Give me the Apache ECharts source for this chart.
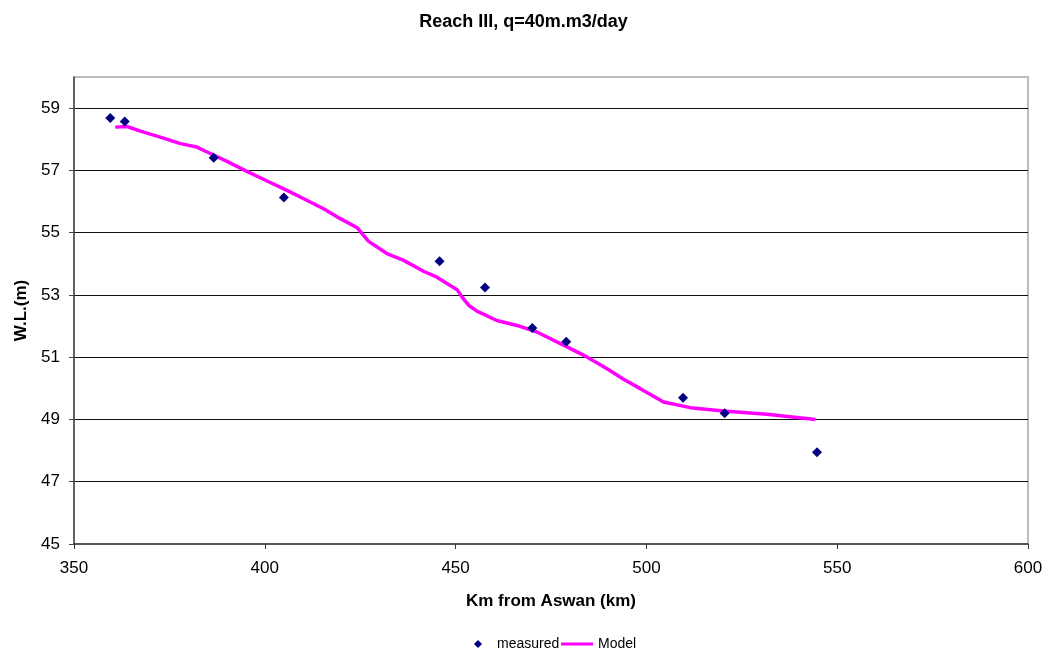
<!DOCTYPE html>
<html>
<head>
<meta charset="utf-8">
<script src="https://cdn.jsdelivr.net/npm/echarts@6/dist/echarts.min.js"></script>
<style>
  html, body { margin: 0; padding: 0; background: #ffffff; }
  #chart { width: 1047px; height: 657px; }
</style>
</head>
<body>
<div id="chart"></div>
<script>
// Measured water levels along Reach III
const measuredKm = [359.5, 363.3, 386.6, 405.0, 445.8, 457.7, 470.1, 479.0, 509.6, 520.5, 544.7];
const measuredWL = [58.68, 58.57, 57.41, 56.13, 54.08, 53.24, 51.94, 51.50, 49.70, 49.20, 47.95];

// Model water-surface profile
const modelKm = [360.8, 363.9, 367.4, 372.6, 377.9, 382.2, 384.9, 390.1, 395.3, 400.6,
                 405.8, 410.2, 415.4, 419.8, 424.2, 425.5, 427.2, 432.0, 436.4, 441.6,
                 445.1, 450.4, 451.7, 453.4, 455.6, 460.8, 466.1, 471.3, 479.2, 484.4,
                 489.7, 494.0, 498.4, 504.5, 511.5, 520.2, 531.6, 544.3];
const modelWL = [58.39, 58.41, 58.26, 58.07, 57.86, 57.75, 57.59, 57.29, 56.97, 56.66,
                 56.36, 56.09, 55.77, 55.45, 55.16, 54.97, 54.72, 54.33, 54.11, 53.76,
                 53.57, 53.17, 52.93, 52.67, 52.48, 52.18, 52.02, 51.81, 51.33, 51.01,
                 50.63, 50.29, 49.99, 49.56, 49.38, 49.27, 49.17, 49.00];

// Axis tick values
const yTicks = [45, 47, 49, 51, 53, 55, 57, 59];
const xTicks = [350, 400, 450, 500, 550, 600];

const FONT = '"Liberation Sans", Arial, sans-serif';

const chart = echarts.init(document.getElementById('chart'), null, { renderer: 'canvas' });

chart.setOption({
  backgroundColor: '#ffffff',
  animation: false,
  title: {
    text: 'Reach III, q=40m.m3/day',
    left: 'center',
    top: 8,
    textStyle: { fontFamily: FONT, fontSize: 18, fontWeight: 'bold', color: '#000' }
  },
  legend: [
    {
      data: ['measured'],
      left: 474,
      top: 637,
      padding: 0,
      itemWidth: 8,
      itemHeight: 8,
      icon: 'diamond',
      textStyle: { fontFamily: FONT, fontSize: 14, color: '#000', padding: [0, 0, 0, 10] }
    },
    {
      data: ['Model'],
      left: 561,
      top: 637,
      padding: 0,
      itemWidth: 32,
      itemHeight: 3,
      icon: 'rect',
      textStyle: { fontFamily: FONT, fontSize: 14, color: '#000' }
    }
  ],
  grid: {
    left: 74,
    right: 19,
    top: 77,
    bottom: 113,
    show: true,
    borderColor: '#bdbdbd',
    borderWidth: 2,
    backgroundColor: '#ffffff'
  },
  xAxis: {
    type: 'value',
    min: xTicks[0],
    max: xTicks[xTicks.length - 1],
    interval: 50,
    name: 'Km from Aswan (km)',
    nameLocation: 'middle',
    nameGap: 49,
    nameTextStyle: { fontFamily: FONT, fontSize: 17, fontWeight: 'bold', color: '#000' },
    axisLine: { onZero: false, lineStyle: { color: '#333', width: 1.5 } },
    axisTick: { show: true, inside: false, length: 5, lineStyle: { color: '#333' } },
    axisLabel: { fontFamily: FONT, fontSize: 17, color: '#000', margin: 16 },
    splitLine: { show: false }
  },
  yAxis: {
    type: 'value',
    min: 45,
    max: 60,
    interval: 2,
    name: 'W.L.(m)',
    nameLocation: 'middle',
    nameRotate: 90,
    nameGap: 44,
    nameTextStyle: { fontFamily: FONT, fontSize: 17, fontWeight: 'bold', color: '#000' },
    axisLine: { show: true, onZero: false, lineStyle: { color: '#444', width: 1.5 } },
    axisTick: { show: true, inside: false, length: 5, customValues: yTicks, lineStyle: { color: '#444' } },
    axisLabel: {
      fontFamily: FONT, fontSize: 17, color: '#000', margin: 14,
      customValues: yTicks,
      formatter: v => (yTicks.indexOf(v) >= 0 ? String(v) : '')
    },
    splitLine: { show: true, showMinLine: false, lineStyle: { color: '#111', width: 1 } }
  },
  series: [
    {
      name: 'Model',
      type: 'line',
      data: modelKm.map((k, i) => [k, modelWL[i]]),
      showSymbol: false,
      symbol: 'none',
      smooth: false,
      lineStyle: { color: '#ff00ff', width: 3.5 },
      itemStyle: { color: '#ff00ff' },
      z: 2
    },
    {
      name: 'measured',
      type: 'scatter',
      data: measuredKm.map((k, i) => [k, measuredWL[i]]),
      symbol: 'diamond',
      symbolSize: 10,
      itemStyle: { color: '#000080', opacity: 1 },
      z: 3
    }
  ]
});
</script>
</body>
</html>
